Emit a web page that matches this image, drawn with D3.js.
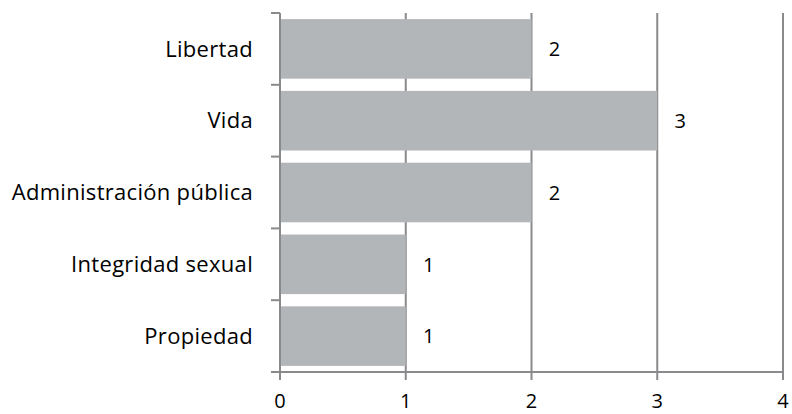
<!DOCTYPE html>
<html><head><meta charset="utf-8">
<script src="https://cdn.jsdelivr.net/npm/d3@7"></script>
<style>body{margin:0;background:#fff}svg{display:block}text{font-family:"Open Sans","Noto Sans",sans-serif;fill:#000}</style>
</head><body>
<svg id="c" width="792" height="414"></svg>
<script>
const categories = ["Libertad","Vida","Administración pública","Integridad sexual","Propiedad"];
const values = [2,3,2,1,1];
const xTicks = [0,1,2,3,4];

const svg = d3.select("#c");
const mLeft = 280, mRight = 783, mTop = 13, mBottom = 372;
const x = d3.scaleLinear().domain([0,4]).range([mLeft,mRight]);
const y = d3.scaleBand().domain(categories).range([mTop,mBottom]).paddingInner(0.17).paddingOuter(0.085);
const axisColor = "#8a8a8c";

// gridlines
svg.append("g").selectAll("line").data(xTicks.slice(1)).join("line")
  .attr("x1",d=>x(d)).attr("x2",d=>x(d)).attr("y1",mTop).attr("y2",mBottom)
  .attr("stroke",axisColor).attr("stroke-width",2);

// bars
svg.append("g").selectAll("rect").data(categories).join("rect")
  .attr("x",x(0)).attr("y",d=>y(d))
  .attr("width",(d,i)=>x(values[i])-x(0)).attr("height",y.bandwidth())
  .attr("fill","#b3b6b8");

// y axis
const yg = svg.append("g");
yg.append("line").attr("x1",mLeft).attr("x2",mLeft).attr("y1",mTop).attr("y2",mBottom)
  .attr("stroke",axisColor).attr("stroke-width",2);
const bounds = d3.range(categories.length+1).map(i=>mTop + i*(mBottom-mTop)/categories.length);
yg.selectAll(".yt").data(bounds).join("line").attr("class","yt")
  .attr("x1",mLeft-9).attr("x2",mLeft).attr("y1",d=>d).attr("y2",d=>d)
  .attr("stroke",axisColor).attr("stroke-width",2);
yg.selectAll(".yl").data(categories).join("text").attr("class","yl")
  .attr("x",253).attr("y",d=>y(d)+y.bandwidth()/2).attr("dy","0.35em")
  .attr("text-anchor","end").attr("font-size",22).attr("letter-spacing",0.3).text(d=>d);

// x axis
const xg = svg.append("g").attr("transform",`translate(0,${mBottom})`);
xg.append("line").attr("x1",mLeft-9).attr("x2",mRight).attr("stroke",axisColor).attr("stroke-width",2);
xg.selectAll(".xt").data(xTicks).join("line").attr("class","xt")
  .attr("x1",d=>x(d)).attr("x2",d=>x(d)).attr("y1",0).attr("y2",8)
  .attr("stroke",axisColor).attr("stroke-width",2);
xg.selectAll(".xl").data(xTicks).join("text").attr("class","xl")
  .attr("x",d=>x(d)).attr("y",36)
  .attr("text-anchor","middle").attr("font-size",20).text(d=>d);

// value labels
svg.append("g").selectAll("text").data(categories).join("text")
  .attr("x",(d,i)=>x(values[i])+23).attr("y",d=>y(d)+y.bandwidth()/2).attr("dy","0.36em")
  .attr("text-anchor","middle").attr("font-size",20).text((d,i)=>values[i]);
</script>
</body></html>
